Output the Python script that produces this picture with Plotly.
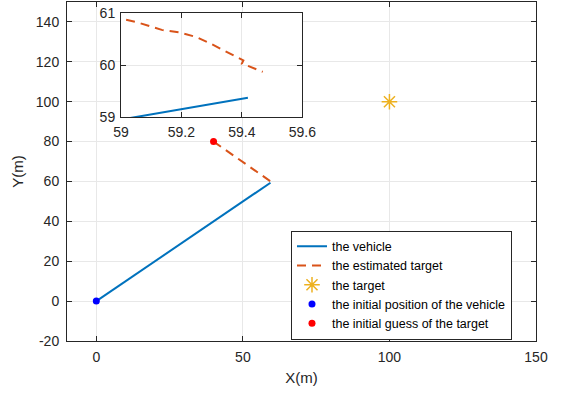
import plotly.graph_objects as go

# ---- data ----
vehicle_x = [0, 59.42]
vehicle_y = [0, 59.37]

est_x = [40, 59.0, 59.057, 59.135, 59.195, 59.25, 59.295, 59.35, 59.394, 59.405, 59.40, 59.415, 59.469]
est_y = [80, 60.90, 60.82, 60.68, 60.63, 60.54, 60.42, 60.26, 60.13, 60.09, 60.03, 60.0, 59.87]

target_x = [100]
target_y = [100]

init_vehicle_x = [0]
init_vehicle_y = [0]

init_guess_x = [40]
init_guess_y = [80]

main_xticks = [0, 50, 100, 150]
main_yticks = [-20, 0, 20, 40, 60, 80, 100, 120, 140]
main_ytick_labels = ["-20", "0", "20", "40", "60", "80", "100", "120", "140"]
inset_xticks = [59, 59.2, 59.4, 59.6]
inset_yticks = [59, 60, 61]

names = ["the vehicle", "the estimated target", "the target",
         "the initial position of the vehicle", "the initial guess of the target"]

BLUE = "#0072BD"
ORANGE = "#D95319"
YELLOW = "#EDB120"
AX = "#262626"
GRID = "#e8e8e8"
FONT = "Liberation Sans, Arial, Helvetica, sans-serif"

fig = go.Figure()

for ax_x, ax_y, show in [("x", "y", True), ("x2", "y2", False)]:
    fig.add_trace(go.Scatter(x=vehicle_x, y=vehicle_y, mode="lines", name=names[0],
                             line=dict(color=BLUE, width=2), xaxis=ax_x, yaxis=ax_y,
                             showlegend=show))
    fig.add_trace(go.Scatter(x=est_x, y=est_y, mode="lines", name=names[1],
                             line=dict(color=ORANGE, width=2, dash="9px,6px"),
                             xaxis=ax_x, yaxis=ax_y, showlegend=show))
    fig.add_trace(go.Scatter(x=target_x, y=target_y, mode="markers", name=names[2],
                             marker=dict(symbol="asterisk-open", size=13, color=YELLOW,
                                         line=dict(color=YELLOW, width=1.5)),
                             xaxis=ax_x, yaxis=ax_y, showlegend=show))
    fig.add_trace(go.Scatter(x=init_vehicle_x, y=init_vehicle_y, mode="markers", name=names[3],
                             marker=dict(symbol="circle", size=7, color="#0000FF"),
                             xaxis=ax_x, yaxis=ax_y, showlegend=show))
    fig.add_trace(go.Scatter(x=init_guess_x, y=init_guess_y, mode="markers", name=names[4],
                             marker=dict(symbol="circle", size=7, color="#FF0000"),
                             xaxis=ax_x, yaxis=ax_y, showlegend=show))

axis_common = dict(showline=True, linecolor=AX, linewidth=1, mirror="ticks",
                   ticks="inside", ticklen=5, tickcolor=AX, showgrid=True,
                   gridcolor=GRID, gridwidth=1, zeroline=False, automargin=False)

fig.update_layout(
    width=562, height=396,
    margin=dict(l=67, r=26, t=2, b=55),
    paper_bgcolor="white", plot_bgcolor="white",
    font=dict(family=FONT, color=AX, size=13),
    xaxis=dict(range=[-10, 150], tickvals=main_xticks, domain=[0, 1],
               title=dict(text="X(m)", font=dict(size=15), standoff=8),
               tickfont=dict(size=14), ticklabelstandoff=3, **axis_common),
    yaxis=dict(range=[-20, 150], tickvals=main_yticks, ticktext=main_ytick_labels,
               domain=[0, 1],
               title=dict(text="Y(m)", font=dict(size=15), standoff=8),
               tickfont=dict(size=14), ticklabelstandoff=4, **axis_common),
    xaxis2=dict(range=[59, 59.6], tickvals=inset_xticks, domain=[0.1151, 0.5017],
                anchor="y2", tickfont=dict(size=14), ticklabelstandoff=2, **axis_common),
    yaxis2=dict(range=[59, 61], tickvals=inset_yticks, domain=[0.6608, 0.9667],
                anchor="x2", tickfont=dict(size=14), ticklabelstandoff=2, **axis_common),
    legend=dict(x=0.4776, y=0.3254, xanchor="left", yanchor="top",
                bgcolor="white", bordercolor=AX, borderwidth=1,
                font=dict(size=12.5, color="#000000"), tracegroupgap=0),
    showlegend=True,
)

fig.write_html("out.html")
